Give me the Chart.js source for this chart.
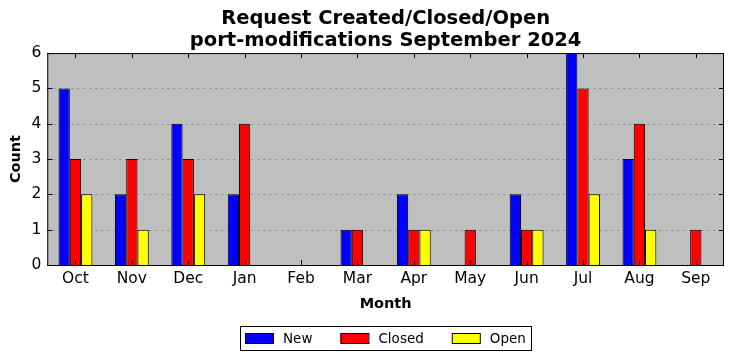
<!DOCTYPE html>
<html>
<head>
<meta charset="utf-8">
<script src="https://cdn.jsdelivr.net/npm/chart.js@4/dist/chart.umd.min.js"></script>
<style>
  html, body { margin: 0; padding: 0; background: #fff; }
  #wrap { width: 732px; height: 361px; }
</style>
</head>
<body>
<div id="wrap"><canvas id="chart" width="732" height="361"></canvas></div>
<script>
// data
const months = ['Oct', 'Nov', 'Dec', 'Jan', 'Feb', 'Mar', 'Apr', 'May', 'Jun', 'Jul', 'Aug', 'Sep'];
const newCounts = [5, 2, 4, 2, 0, 1, 2, 0, 2, 6, 3, 0];
const closedCounts = [3, 3, 3, 4, 0, 1, 1, 1, 1, 5, 4, 1];
const openCounts = [2, 1, 2, 0, 0, 0, 1, 0, 1, 2, 1, 0];
const yTicks = [0, 1, 2, 3, 4, 5, 6];

const font = "'DejaVu Sans', sans-serif";

// gray plot background + frame + inward ticks + boxed legend, matplotlib style
const frame = {
    id: 'frame',
    beforeDatasetsDraw(chart) {
        const a = chart.chartArea;
        const c = chart.ctx;
        c.save();
        c.fillStyle = '#bfbfbf';
        c.fillRect(a.left, a.top, a.right - a.left, a.bottom - a.top);
        // dotted grid
        c.strokeStyle = '#8c8c8c';
        c.lineWidth = 1;
        c.setLineDash([2, 4]);
        const y = chart.scales.y;
        yTicks.forEach(v => {
            if (v === 0 || v === 6) return;
            const py = Math.round(y.getPixelForValue(v)) + 0.5;
            c.beginPath();
            c.moveTo(a.left, py);
            c.lineTo(a.right, py);
            c.stroke();
        });
        c.restore();
    },
    afterDraw(chart) {
        const a = chart.chartArea;
        const c = chart.ctx;
        c.save();
        c.strokeStyle = '#000';
        c.lineWidth = 1;
        c.strokeRect(a.left + 0.5, a.top + 0.5, a.right - a.left - 1, a.bottom - a.top);
        const x = chart.scales.x;
        const y = chart.scales.y;
        c.beginPath();
        months.forEach((m, i) => {
            const px = Math.round(x.getPixelForValue(i)) + 0.5;
            c.moveTo(px, a.bottom); c.lineTo(px, a.bottom - 5);
            c.moveTo(px, a.top); c.lineTo(px, a.top + 5);
        });
        yTicks.forEach(v => {
            const py = Math.round(y.getPixelForValue(v)) + 0.5;
            c.moveTo(a.left, py); c.lineTo(a.left + 5, py);
            c.moveTo(a.right, py); c.lineTo(a.right - 5, py);
        });
        c.stroke();

        // legend below the axis title, centred on the plot area
        c.font = '13.5px ' + font;
        c.textBaseline = 'middle';
        const sw = 28, gap = 10, between = 28, margin = 5;
        const ds = chart.data.datasets;
        const widths = ds.map(d => c.measureText(d.label).width);
        let total = margin * 2 + between * (ds.length - 1);
        widths.forEach(w => { total += sw + gap + w; });
        const cx = (a.left + a.right) / 2;
        let lx = Math.round(cx - total / 2);
        const top = 326, h = 24, mid = top + h / 2;
        c.strokeRect(lx + 0.5, top + 0.5, Math.round(total), h);
        lx += margin;
        ds.forEach((d, i) => {
            c.fillStyle = d.backgroundColor;
            c.fillRect(lx, mid - 5, sw, 10);
            c.strokeRect(lx + 0.5, mid - 5 + 0.5, sw, 10);
            c.fillStyle = '#000';
            c.fillText(d.label, lx + sw + gap, mid + 1);
            lx += sw + gap + widths[i] + between;
        });
        c.restore();
    }
};

const ctx = document.getElementById('chart').getContext('2d');
const chart = new Chart(ctx, {
    type: 'bar',
    data: {
        labels: months,
        datasets: [
            { label: 'New', data: newCounts, backgroundColor: '#0000ff', borderColor: '#000', borderWidth: 1 },
            { label: 'Closed', data: closedCounts, backgroundColor: '#ff0000', borderColor: '#000', borderWidth: 1 },
            { label: 'Open', data: openCounts, backgroundColor: '#ffff00', borderColor: '#000', borderWidth: 1 }
        ]
    },
    options: {
        responsive: false,
        animation: false,
        devicePixelRatio: 1,
        layout: { padding: { left: 0, right: 8, top: 8, bottom: 48 } },
        datasets: { bar: { categoryPercentage: 0.6, barPercentage: 1.0 } },
        plugins: {
            title: {
                display: true,
                fullSize: false,
                text: ['Request Created/Closed/Open', 'port-modifications September 2024'],
                color: '#000',
                font: { family: font, size: 19.5, weight: 'bold', lineHeight: 1.13 },
                padding: { top: 0, bottom: 1 }
            },
            legend: { display: false },
            tooltip: { enabled: false }
        },
        scales: {
            x: {
                grid: { display: false, drawTicks: false },
                border: { display: false },
                ticks: { color: '#000', font: { family: font, size: 15.5 }, padding: 5 },
                title: { display: true, text: 'Month', color: '#000', font: { family: font, size: 14.5, weight: 'bold' }, padding: { top: 2, bottom: 0 } }
            },
            y: {
                min: 0,
                max: 6,
                grid: { display: false, drawTicks: false },
                border: { display: false },
                ticks: { stepSize: 1, color: '#000', font: { family: font, size: 15.5 }, padding: 6 },
                title: { display: true, text: 'Count', color: '#000', font: { family: font, size: 14.5, weight: 'bold' }, padding: { top: 8, bottom: 0 } }
            }
        }
    },
    plugins: [frame]
});
</script>
</body>
</html>
